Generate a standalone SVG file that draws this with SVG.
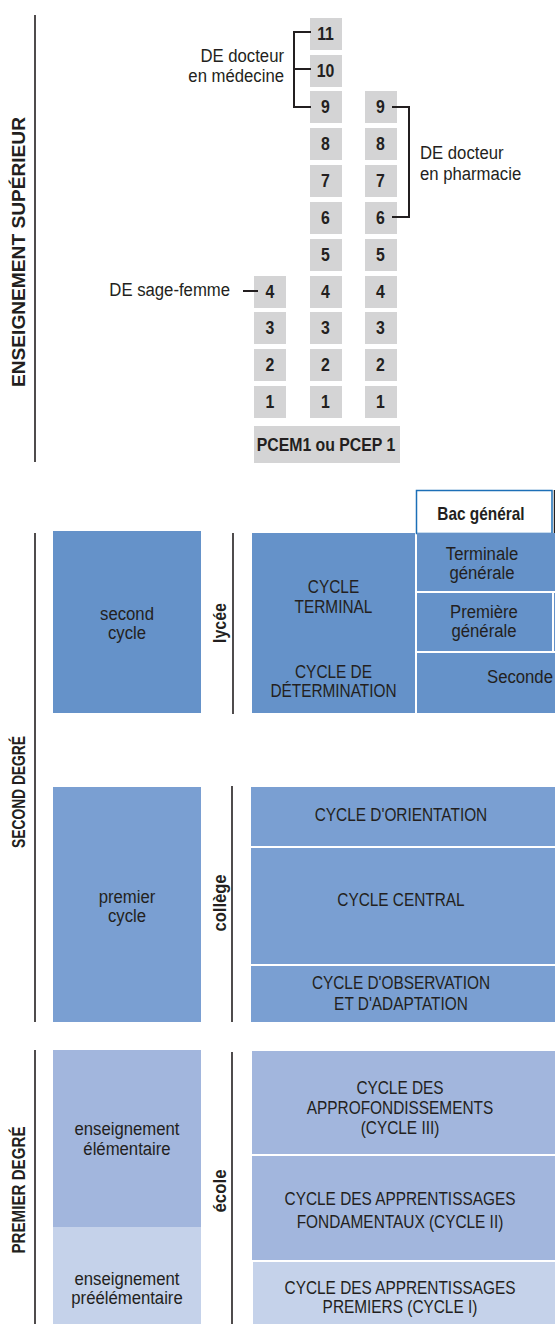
<svg xmlns="http://www.w3.org/2000/svg" width="555" height="1324" viewBox="0 0 555 1324">
<style>
text{font-family:"Liberation Sans",Arial,sans-serif;fill:#231f20;font-size:17.5px;text-anchor:middle}
.b{font-weight:bold}
.n{font-weight:bold;font-size:18px}
.lc{font-size:19px}
.e{text-anchor:end}
.s{text-anchor:start}
.g{fill:#d4d4d5}
.c1{fill:#6592c9}
.c2{fill:#7a9fd2}
.c3{fill:#a2b6dd}
.c4{fill:#c5d2ea}
.ln{stroke:#231f20;stroke-width:1.6;fill:none}
.br{stroke:#231f20;stroke-width:2;fill:none}
</style>
<rect width="555" height="1324" fill="#fff"/>

<g id="section-labels">
<line class="ln" x1="35" y1="15" x2="35" y2="462"/>
<text class="b" font-size="18" textLength="270" lengthAdjust="spacingAndGlyphs" transform="translate(25,252) rotate(-90)">ENSEIGNEMENT SUPÉRIEUR</text>
<line class="ln" x1="35" y1="533" x2="35" y2="1022"/>
<text class="b" font-size="18" textLength="112" lengthAdjust="spacingAndGlyphs" transform="translate(25,792) rotate(-90)">SECOND DEGRÉ</text>
<line class="ln" x1="35" y1="1050" x2="35" y2="1324"/>
<text class="b" font-size="18" textLength="127" lengthAdjust="spacingAndGlyphs" transform="translate(25,1190) rotate(-90)">PREMIER DEGRÉ</text>
</g>

<g id="years-col1">
<rect class="g" x="254" y="276" width="32" height="32"/>
<rect class="g" x="254" y="312" width="32" height="32"/>
<rect class="g" x="254" y="349" width="32" height="32"/>
<rect class="g" x="254" y="386" width="32" height="32"/>
<g transform="scale(0.88 1)">
<text class="n" x="306.82" y="298">4</text>
<text class="n" x="306.82" y="334">3</text>
<text class="n" x="306.82" y="371">2</text>
<text class="n" x="306.82" y="408">1</text>
</g>
</g>
<g id="years-col2">
<rect class="g" x="310" y="18" width="32" height="32"/>
<rect class="g" x="310" y="55" width="32" height="32"/>
<rect class="g" x="310" y="91" width="32" height="32"/>
<rect class="g" x="310" y="128" width="32" height="32"/>
<rect class="g" x="310" y="165" width="32" height="32"/>
<rect class="g" x="310" y="202" width="32" height="32"/>
<rect class="g" x="310" y="239" width="32" height="32"/>
<rect class="g" x="310" y="276" width="32" height="32"/>
<rect class="g" x="310" y="312" width="32" height="32"/>
<rect class="g" x="310" y="349" width="32" height="32"/>
<rect class="g" x="310" y="386" width="32" height="32"/>
<g transform="scale(0.88 1)">
<text class="n" x="369.89" y="40">11</text>
<text class="n" x="369.89" y="77">10</text>
<text class="n" x="369.89" y="113">9</text>
<text class="n" x="369.89" y="150">8</text>
<text class="n" x="369.89" y="187">7</text>
<text class="n" x="369.89" y="224">6</text>
<text class="n" x="369.89" y="261">5</text>
<text class="n" x="369.89" y="298">4</text>
<text class="n" x="369.89" y="334">3</text>
<text class="n" x="369.89" y="371">2</text>
<text class="n" x="369.89" y="408">1</text>
</g>
</g>
<g id="years-col3">
<rect class="g" x="365" y="91" width="32" height="32"/>
<rect class="g" x="365" y="128" width="32" height="32"/>
<rect class="g" x="365" y="165" width="32" height="32"/>
<rect class="g" x="365" y="202" width="32" height="32"/>
<rect class="g" x="365" y="239" width="32" height="32"/>
<rect class="g" x="365" y="276" width="32" height="32"/>
<rect class="g" x="365" y="312" width="32" height="32"/>
<rect class="g" x="365" y="349" width="32" height="32"/>
<rect class="g" x="365" y="386" width="32" height="32"/>
<g transform="scale(0.88 1)">
<text class="n" x="432.39" y="113">9</text>
<text class="n" x="432.39" y="150">8</text>
<text class="n" x="432.39" y="187">7</text>
<text class="n" x="432.39" y="224">6</text>
<text class="n" x="432.39" y="261">5</text>
<text class="n" x="432.39" y="298">4</text>
<text class="n" x="432.39" y="334">3</text>
<text class="n" x="432.39" y="371">2</text>
<text class="n" x="432.39" y="408">1</text>
</g>
</g>
<g id="pcem">
<rect class="g" x="254" y="426" width="146" height="37"/>
<g transform="scale(0.88 1)"><text class="n" font-size="17" x="370.45" y="451">PCEM1 ou PCEP 1</text></g>
</g>

<g id="label-medecine" transform="scale(0.88 1)"><text class="lc e" x="322.73" y="62">DE docteur</text><text class="lc e" x="322.73" y="82">en médecine</text></g>
<g id="label-pharmacie" transform="scale(0.88 1)"><text class="lc s" x="477.27" y="159">DE docteur</text><text class="lc s" x="477.27" y="180">en pharmacie</text></g>
<g id="label-sagefemme" transform="scale(0.88 1)"><text class="lc e" x="261.36" y="296">DE sage-femme</text></g>

<g id="connectors">
<path class="br" d="M311,32 H294 V107 H311 M294,69 H311"/>
<path class="br" d="M392,107 H409 V217 H392"/>
<path class="br" d="M243,291 H258"/>
</g>

<g id="bac-general">
<rect x="416.5" y="490.5" width="135.5" height="43" fill="#fff" stroke="#1c6fb7" stroke-width="1.5"/>
<line x1="554.5" y1="490" x2="554.5" y2="533" stroke="#231f20" stroke-width="1.5"/>
<g transform="scale(0.88 1)"><text class="b" font-size="18" x="546.59" y="520">Bac général</text></g>
</g>

<g id="second-cycle"><rect class="c1" x="53" y="531" width="148" height="182"/><g transform="scale(0.88 1)"><text class="lc" x="144.32" y="620">second</text><text class="lc" x="144.32" y="639">cycle</text></g></g>
<g id="lycee"><line class="ln" x1="233" y1="533" x2="233" y2="714"/><text class="b" font-size="18" textLength="40" lengthAdjust="spacingAndGlyphs" transform="translate(226,623) rotate(-90)">lycée</text></g>
<g id="cycles-lycee">
<rect class="c1" x="252" y="533" width="163" height="180"/>
<g transform="scale(0.88 1)">
<text x="378.98" y="593">CYCLE</text><text x="378.98" y="613">TERMINAL</text>
<text x="378.98" y="678">CYCLE DE</text><text x="378.98" y="697">DÉTERMINATION</text>
</g>
</g>
<g id="terminale"><rect class="c1" x="417" y="533" width="138" height="58"/><g transform="scale(0.88 1)"><text class="lc" x="547.73" y="560">Terminale</text><text class="lc" x="547.73" y="579">générale</text></g></g>
<g id="premiere"><rect class="c1" x="417" y="593" width="135" height="58"/><rect class="c1" x="554" y="593" width="1" height="58"/><g transform="scale(0.88 1)"><text class="lc" x="550" y="618">Première</text><text class="lc" x="550" y="637">générale</text></g></g>
<g id="seconde"><rect class="c1" x="417" y="653" width="138" height="60"/><g transform="scale(0.88 1)"><text class="lc s" x="553.41" y="683">Seconde</text></g></g>

<g id="premier-cycle"><rect class="c2" x="53" y="787" width="148" height="235"/><g transform="scale(0.88 1)"><text class="lc" x="144.32" y="903">premier</text><text class="lc" x="144.32" y="922">cycle</text></g></g>
<g id="college"><line class="ln" x1="232" y1="786" x2="232" y2="1022"/><text class="b" font-size="18" textLength="57" lengthAdjust="spacingAndGlyphs" transform="translate(226,903) rotate(-90)">collège</text></g>
<g id="cycle-orientation"><rect class="c2" x="251" y="787" width="304" height="59"/><g transform="scale(0.88 1)"><text x="455.68" y="821">CYCLE D'ORIENTATION</text></g></g>
<g id="cycle-central"><rect class="c2" x="251" y="848" width="304" height="116"/><g transform="scale(0.88 1)"><text x="455.68" y="906">CYCLE CENTRAL</text></g></g>
<g id="cycle-observation"><rect class="c2" x="251" y="966" width="304" height="56"/><g transform="scale(0.88 1)"><text x="455.68" y="989">CYCLE D'OBSERVATION</text><text x="455.68" y="1010">ET D'ADAPTATION</text></g></g>

<g id="elementaire"><rect class="c3" x="53" y="1050" width="148" height="177"/><g transform="scale(0.88 1)"><text class="lc" x="144.32" y="1135">enseignement</text><text class="lc" x="144.32" y="1155">élémentaire</text></g></g>
<g id="preelementaire"><rect class="c4" x="53" y="1227" width="148" height="97"/><g transform="scale(0.88 1)"><text class="lc" x="144.32" y="1285">enseignement</text><text class="lc" x="144.32" y="1304">préélémentaire</text></g></g>
<g id="ecole"><line class="ln" x1="232" y1="1052" x2="232" y2="1324"/><text class="b" font-size="18" textLength="43" lengthAdjust="spacingAndGlyphs" transform="translate(226,1191) rotate(-90)">école</text></g>
<g id="cycle-iii"><rect class="c3" x="252" y="1051" width="303" height="103"/><g transform="scale(0.88 1)"><text x="454.55" y="1094">CYCLE DES</text><text x="454.55" y="1114">APPROFONDISSEMENTS</text><text x="454.55" y="1134">(CYCLE III)</text></g></g>
<g id="cycle-ii"><rect class="c3" x="252" y="1156" width="303" height="104"/><g transform="scale(0.88 1)"><text x="454.55" y="1205">CYCLE DES APPRENTISSAGES</text><text x="454.55" y="1228">FONDAMENTAUX (CYCLE II)</text></g></g>
<g id="cycle-i"><rect class="c4" x="253" y="1262" width="302" height="62"/><g transform="scale(0.88 1)"><text x="454.55" y="1294">CYCLE DES APPRENTISSAGES</text><text x="454.55" y="1313">PREMIERS (CYCLE I)</text></g></g>
</svg>
